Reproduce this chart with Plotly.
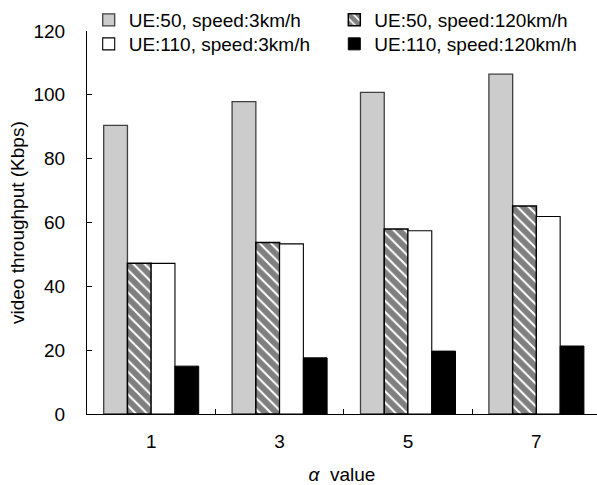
import plotly.graph_objects as go

# alpha values on the category axis
alpha_values = ["1", "3", "5", "7"]

# video throughput (Kbps) per scenario
ue50_slow = [90.4, 97.9, 100.8, 106.5]
ue50_fast = [47.2, 53.7, 58.0, 65.2]
ue110_slow = [47.2, 53.3, 57.4, 61.9]
ue110_fast = [15.0, 17.6, 19.7, 21.3]

series_names = [
    "UE:50, speed:3km/h",
    "UE:50, speed:120km/h",
    "UE:110, speed:3km/h",
    "UE:110, speed:120km/h",
]

y_ticks = [0, 20, 40, 60, 80, 100, 120]

FONT = "Liberation Sans, Arial, sans-serif"
W, H = 597, 485
ML, MT, MB = 87.4, 31.2, 71

fig = go.Figure()

fig.add_trace(go.Bar(
    x=alpha_values, y=ue50_slow, name=series_names[0], legend="legend",
    marker=dict(color="#cccccc", line=dict(color="#404040", width=1.3)),
))
fig.add_trace(go.Bar(
    x=alpha_values, y=ue50_fast, name=series_names[1], legend="legend2",
    marker=dict(color="white", line=dict(color="black", width=1.5),
                pattern=dict(shape="\\", fgcolor="black", bgcolor="white",
                             size=8, solidity=0.75)),
))
fig.add_trace(go.Bar(
    x=alpha_values, y=ue110_slow, name=series_names[2], legend="legend3",
    marker=dict(color="white", line=dict(color="black", width=1.1)),
))
fig.add_trace(go.Bar(
    x=alpha_values, y=ue110_fast, name=series_names[3], legend="legend4",
    marker=dict(color="black", line=dict(color="black", width=1)),
))


def legend_box(x_text_px, y_center_px):
    return dict(
        xref="container", yref="container",
        x=(x_text_px - 38) / W, y=1 - y_center_px / H,
        xanchor="left", yanchor="middle",
        font=dict(family=FONT, size=19, color="black"),
        bgcolor="rgba(0,0,0,0)", borderwidth=0,
    )


plot_w = W - ML
cat_px = 128.3

fig.update_layout(
    width=W, height=H,
    margin=dict(l=ML, r=0, t=MT, b=MB, autoexpand=False),
    paper_bgcolor="white", plot_bgcolor="white",
    font=dict(family=FONT, size=19, color="black"),
    barmode="group", bargap=0.26, bargroupgap=0,
    showlegend=True,
    legend=legend_box(126.7, 20),
    legend2=legend_box(372.3, 20),
    legend3=legend_box(126.7, 44),
    legend4=legend_box(372.3, 44),
    xaxis=dict(
        type="category",
        range=[-0.5, -0.5 + plot_w / cat_px],
        showline=True, linecolor="black", linewidth=1,
        ticks="inside", tickson="boundaries", ticklen=5, tickcolor="black",
        tickfont=dict(family=FONT, size=19, color="black"),
        ticklabelstandoff=10,
        showgrid=False, zeroline=False,
        title=dict(text="<i>α</i>\u00a0 value",
                   font=dict(family=FONT, size=19, color="black"),
                   standoff=16),
    ),
    yaxis=dict(
        range=[0, 120], tickvals=y_ticks,
        showline=True, linecolor="black", linewidth=1,
        ticks="inside", ticklen=5, tickcolor="black",
        tickfont=dict(family=FONT, size=19, color="black"),
        ticklabelstandoff=17,
        showgrid=False, zeroline=False,
    ),
    annotations=[dict(
        text="video throughput (Kbps)", textangle=-90,
        xref="paper", yref="paper",
        x=(18 - ML) / plot_w, y=0.5,
        xanchor="center", yanchor="middle", showarrow=False,
        font=dict(family=FONT, size=19, color="black"),
    )],
)

fig.write_html("out.html")
